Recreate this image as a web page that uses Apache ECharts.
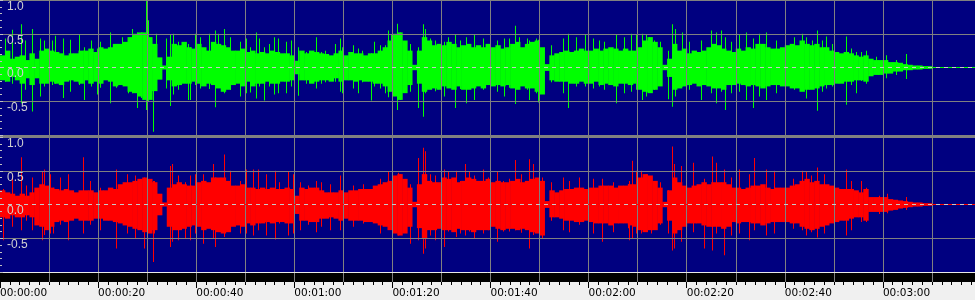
<!DOCTYPE html>
<html><head><meta charset="utf-8">
<script src="https://cdn.jsdelivr.net/npm/echarts@6/dist/echarts.min.js"></script>
<style>html,body{margin:0;padding:0;background:#808080;}#c{width:975px;height:300px;}</style>
</head><body><div id="c"></div>
<script>
// ---- data (amplitude per 1-second bucket, t = index in seconds) ----
const greenHi = [.18,.25,.13,.16,.18,.11,.21,.13,.25,.28, .25,.23,.21,.18,.21,.21,.25,.25,.28,.23,
 .30,.28,.30,.35,.35,.38,.45,.50,.52,.52, .45,.35,.15,.03,.16,.35,.33,.38,.30,.28,
 .35,.30,.25,.38,.35,.33,.30,.25,.25,.28, .23,.25,.21,.23,.21,.25,.23,.21,.21,.18,
 .10,.25,.21,.25,.23,.21,.20,.18,.21,.25, .18,.23,.21,.21,.18,.21,.21,.25,.30,.40,
 .50,.52,.40,.25,.04,.25,.45,.40,.33,.35, .33,.38,.35,.30,.33,.35,.30,.33,.30,.35,
 .30,.33,.28,.30,.35,.38,.30,.35,.38,.40, .30,.05,.18,.21,.23,.25,.23,.25,.28,.25,
 .25,.28,.25,.28,.30,.28,.25,.28,.25,.25, .30,.40,.45,.38,.30,.04,.13,.35,.25,.28,
 .21,.25,.23,.25,.30,.35,.33,.28,.25,.23, .28,.25,.30,.28,.35,.35,.30,.28,.28,.30,
 .33,.35,.33,.40,.35,.33,.35,.30,.30,.25, .23,.21,.23,.21,.18,.16,.18,.13,.11,.11,
 .11,.08,.08,.07,.05,.04,.03,.03,.02,.02];
const greenLo = [-.19,-.21,-.14,-.19,-.24,-.16,-.26,-.16,-.24,-.24, -.21,-.24,-.26,-.21,-.19,-.21,-.24,-.19,-.24,-.21,
 -.24,-.19,-.21,-.28,-.26,-.28,-.36,-.38,-.43,-.48, -.48,-.35,-.18,-.03,-.19,-.28,-.26,-.24,-.24,-.21,
 -.24,-.28,-.24,-.26,-.31,-.36,-.33,-.26,-.24,-.28, -.21,-.28,-.24,-.24,-.21,-.24,-.24,-.21,-.21,-.19,
 -.10,-.19,-.19,-.24,-.21,-.19,-.19,-.21,-.16,-.21, -.19,-.19,-.21,-.19,-.21,-.21,-.24,-.24,-.28,-.36,
 -.43,-.48,-.38,-.26,-.04,-.24,-.36,-.33,-.31,-.33, -.28,-.31,-.33,-.28,-.33,-.33,-.31,-.28,-.31,-.26,
 -.28,-.26,-.28,-.26,-.31,-.33,-.28,-.31,-.31,-.36, -.40,-.05,-.19,-.21,-.21,-.21,-.24,-.24,-.21,-.24,
 -.24,-.21,-.26,-.24,-.26,-.28,-.24,-.24,-.26,-.24, -.33,-.36,-.38,-.33,-.28,-.04,-.14,-.33,-.31,-.28,
 -.26,-.24,-.28,-.26,-.28,-.31,-.31,-.33,-.26,-.26, -.24,-.26,-.28,-.26,-.28,-.31,-.28,-.26,-.26,-.28,
 -.28,-.31,-.31,-.36,-.33,-.33,-.31,-.28,-.26,-.26, -.24,-.24,-.21,-.21,-.19,-.19,-.21,-.13,-.11,-.11,
 -.09,-.09,-.06,-.06,-.04,-.04,-.03,-.03,-.02,-.02];
const redHi = [.21,.18,.16,.13,.16,.13,.18,.25,.30,.28, .25,.23,.21,.23,.21,.18,.21,.21,.21,.18,
 .21,.21,.25,.23,.30,.33,.33,.35,.38,.40, .38,.33,.16,.03,.25,.30,.33,.30,.28,.28,
 .33,.35,.33,.40,.40,.40,.35,.28,.28,.30, .25,.25,.23,.25,.23,.25,.23,.23,.25,.23,
 .13,.25,.23,.25,.25,.21,.18,.18,.18,.21, .18,.21,.21,.23,.23,.23,.28,.30,.33,.35,
 .43,.45,.38,.25,.04,.30,.45,.35,.33,.33, .40,.38,.40,.33,.35,.40,.38,.35,.35,.38,
 .33,.35,.33,.33,.35,.38,.33,.35,.38,.40, .35,.05,.21,.18,.21,.23,.23,.25,.25,.23,
 .25,.25,.28,.28,.28,.25,.28,.28,.30,.30, .40,.45,.43,.35,.25,.04,.21,.40,.33,.28,
 .25,.28,.30,.33,.30,.33,.33,.33,.30,.25, .25,.23,.25,.28,.28,.30,.25,.23,.25,.25,
 .25,.28,.30,.35,.38,.33,.35,.30,.30,.28, .25,.23,.23,.23,.21,.18,.23,.11,.11,.11,
 .11,.08,.07,.06,.05,.04,.03,.03,.02,.02];
const redLo = [-.19,-.21,-.16,-.19,-.19,-.16,-.19,-.31,-.33,-.38, -.33,-.26,-.24,-.26,-.24,-.21,-.24,-.24,-.24,-.21,
 -.21,-.24,-.24,-.26,-.28,-.31,-.33,-.36,-.38,-.41, -.43,-.38,-.16,-.03,-.33,-.38,-.38,-.36,-.33,-.31,
 -.33,-.38,-.36,-.38,-.41,-.43,-.41,-.33,-.31,-.33, -.28,-.31,-.28,-.28,-.26,-.28,-.26,-.26,-.28,-.28,
 -.14,-.24,-.24,-.26,-.26,-.21,-.21,-.19,-.21,-.24, -.21,-.24,-.24,-.24,-.26,-.26,-.28,-.31,-.33,-.38,
 -.43,-.46,-.43,-.33,-.04,-.35,-.50,-.38,-.38,-.36, -.38,-.38,-.41,-.36,-.38,-.38,-.41,-.38,-.38,-.38,
 -.33,-.36,-.38,-.36,-.36,-.38,-.36,-.38,-.41,-.43, -.46,-.05,-.19,-.19,-.21,-.24,-.24,-.26,-.26,-.24,
 -.26,-.28,-.28,-.28,-.31,-.28,-.28,-.28,-.31,-.33, -.38,-.41,-.38,-.38,-.28,-.04,-.24,-.43,-.38,-.33,
 -.28,-.28,-.28,-.31,-.33,-.33,-.33,-.36,-.33,-.26, -.28,-.26,-.26,-.28,-.28,-.31,-.28,-.26,-.26,-.26,
 -.26,-.28,-.28,-.33,-.36,-.38,-.36,-.33,-.31,-.28, -.26,-.24,-.24,-.21,-.19,-.19,-.24,-.11,-.11,-.11,
 -.11,-.09,-.08,-.06,-.05,-.04,-.03,-.03,-.02,-.02];
// isolated peaks: [time s, max, min]
const greenSpikes = [[1.1,.43,-.21],[2.5,.56,-.24],[4.3,.64,-.53],[5.2,.40,-.33],[6.7,.57,-.65],[8.2,.43,-.43],[9.1,.40,-.28],[10.7,.40,-.26],[11.3,.47,-.24],[13.0,.43,-.45],[14.3,.41,-.36],[16.2,.48,-.26],[17.3,.30,-.48],[18.7,.40,-.28],[19.8,.28,-.40],[20.4,.38,-.30],[22.5,.52,-.53],[23.8,.33,-.30],[24.9,.45,-.24],[26.2,.40,-.38],[27.1,.57,-.38],[28.1,.52,-.60],[28.9,.52,-.45],[29.8,1.0,-.63],[30.3,.70,-.50],[31.3,.35,-.95],[32.0,.50,-.30],
 [34.0,.43,-.31],[34.7,.48,-.57],[35.4,.50,-.40],[36.4,.38,-.33],[38.4,.35,-.48],[38.9,.30,-.48],[39.8,.50,-.26],[40.8,.45,-.31],[42.7,.50,-.32],[43.9,.55,-.59],[44.5,.50,-.30],[45.8,.57,-.38],[47.0,.45,-.33],[49.0,.38,-.43],[50.3,.43,-.38],[51.1,.30,-.37],[52.2,.52,-.46],[53.0,.43,-.28],[53.9,.30,-.49],[55.0,.35,-.28],[56.0,.45,-.40],[56.8,.43,-.38],[58.5,.38,-.38],[59.5,.40,-.28],[60.8,.30,-.42],[62.5,.23,-.24],[64.5,.45,-.31],
 [65.6,.23,-.24],[66.3,.25,-.22],[68.3,.35,-.21],[69.5,.43,-.36],[69.9,.30,-.38],[72.0,.33,-.31],[73.1,.28,-.38],[74.0,.25,-.22],[75.7,.21,-.49],[76.4,.38,-.28],[77.5,.33,-.31],[78.5,.33,-.38],[79.2,.55,-.44],[79.9,.48,-.33],[81.0,.65,-.63],[81.6,.52,-.48],[83.6,.35,-.36],[85.4,.30,-.60],[86.3,.64,-.73],[86.8,.57,-.38],[87.7,.43,-.30],[88.7,.40,-.35],[90.7,.38,-.43],[91.4,.45,-.30],[92.8,.48,-.60],[93.8,.40,-.32],[95.1,.45,-.53],[96.8,.48,-.48],
 [98.5,.43,-.33],[99.9,.50,-.31],[101.4,.40,-.36],[102.9,.43,-.43],[103.9,.43,-.30],[105.1,.62,-.54],[106.0,.45,-.28],[107.6,.43,-.33],[108.0,.40,-.48],[109.4,.43,-.38],[109.8,.41,-.52],[112.4,.33,-.22],[114.8,.43,-.38],[116.0,.50,-.60],[117.5,.45,-.28],[119.4,.48,-.28],[120.9,.43,-.31],[122.3,.40,-.28],[123.3,.38,-.33],[125.7,.48,-.53],[127.4,.45,-.38],[128.7,.50,-.36],[129.7,.48,-.33],
 [131.0,.50,-.48],[131.8,.48,-.43],[132.5,.45,-.36],[133.5,.40,-.33],[134.6,.38,-.24],[136.2,.25,-.47],[137.2,.64,-.58],[137.7,.57,-.43],[139.1,.52,-.28],[140.6,.38,-.33],[143.0,.40,-.48],[145.0,.55,-.38],[146.0,.52,-.53],[147.1,.55,-.36],[147.9,.45,-.63],[149.1,.38,-.38],[150.7,.48,-.36],[152.1,.52,-.48],[153.7,.43,-.60],[154.9,.50,-.43],[156.2,.52,-.48],[158.3,.40,-.38],[160.2,.62,-.58],[162.0,.45,-.33],
 [163.7,.50,-.33],[164.4,.45,-.46],[165.7,.40,-.31],[166.7,.55,-.64],[167.6,.40,-.36],[168.4,.46,-.31],[169.8,.35,-.28],[172.5,.46,-.55],[173.5,.28,-.26],[174.6,.23,-.38],[175.6,.23,-.20],[176.6,.25,-.24],[178.6,.16,-.10],[180.8,.18,-.16],[182.7,.11,-.11],[184.9,.20,-.17]];
const redSpikes = [[0.8,.23,-.53],[2.5,.45,-.33],[4.3,.70,-.38],[5.5,.28,-.24],[6.7,.40,-.38],[8.6,.48,-.53],[9.1,.52,-.45],[10.3,.45,-.43],[10.9,.25,-.43],[12.3,.40,-.30],[14.0,.45,-.53],[17.0,.70,-.43],[18.4,.35,-.30],[20.4,.25,-.38],[23.8,.52,-.65],[25.9,.45,-.43],[27.6,.43,-.50],[29.4,.40,-.65],[30.1,.77,-.46],[31.3,.35,-.85],[31.6,.35,-.43],
 [34.7,.57,-.63],[35.2,.60,-.55],[36.4,.43,-.53],[37.8,.33,-.50],[38.8,.43,-.53],[39.8,.45,-.43],[41.5,.45,-.58],[43.5,.60,-.50],[43.9,.40,-.63],[45.8,.74,-.48],[46.9,.50,-.38],[49.0,.35,-.43],[50.2,.52,-.43],[51.7,.52,-.46],[52.7,.52,-.38],[54.3,.45,-.46],[56.1,.50,-.52],[57.0,.33,-.28],[58.8,.48,-.46],[59.8,.45,-.43],[61.2,.33,-.38],[62.9,.28,-.30],[64.6,.35,-.41],
 [65.6,.33,-.33],[67.3,.30,-.38],[69.5,.43,-.38],[72.0,.28,-.33],[74.1,.30,-.28],[77.5,.38,-.43],[79.2,.48,-.33],[81.2,.47,-.46],[81.6,.45,-.40],[83.6,.30,-.58],[85.4,.69,-.53],[86.3,.84,-.73],[86.8,.79,-.65],[87.7,.45,-.46],[88.7,.43,-.53],[90.7,.52,-.63],[91.4,.48,-.40],[93.0,.50,-.48],[93.8,.35,-.43],[94.9,.60,-.46],[95.7,.48,-.40],[96.8,.43,-.50],
 [98.5,.52,-.43],[99.5,.40,-.38],[101.4,.48,-.55],[102.7,.35,-.40],[103.9,.38,-.40],[105.1,.66,-.38],[106.3,.45,-.42],[107.9,.67,-.65],[108.8,.60,-.45],[109.9,.45,-.48],[110.5,.40,-.50],[112.4,.33,-.24],[114.8,.40,-.38],[116.2,.35,-.41],[118.2,.40,-.30],[120.9,.38,-.43],[122.9,.38,-.55],[125.0,.33,-.41],[128.1,.30,-.35],[128.4,.35,-.53],[128.9,.65,-.50],[129.7,.50,-.43],
 [130.8,.50,-.43],[131.8,.45,-.40],[132.8,.35,-.43],[134.6,.33,-.30],[136.2,.21,-.43],[137.2,.86,-.68],[137.6,.60,-.65],[138.9,.57,-.55],[141.4,.62,-.41],[143.7,.38,-.65],[145.2,.71,-.68],[146.0,.62,-.43],[147.7,.52,-.75],[149.1,.40,-.46],[150.8,.52,-.43],[152.8,.45,-.53],[153.9,.69,-.38],[156.2,.52,-.46],[157.9,.50,-.43],[160.1,.72,-.67],[161.7,.38,-.36],
 [163.6,.50,-.38],[164.4,.48,-.46],[165.4,.43,-.41],[166.7,.55,-.49],[168.1,.45,-.43],[170.1,.40,-.38],[172.5,.52,-.46],[173.5,.35,-.38],[175.6,.35,-.26],[176.6,.25,-.26],[179.3,.13,-.14],[181.0,.16,-.13],[184.8,.11,-.08]];
const ampTickLabels = ['-1.0','-0.5','0.0','0.5','1.0'];
const timeTickLabels = ['00:00:00','00:00:20','00:00:40','00:01:00','00:01:20','00:01:40','00:02:00','00:02:20','00:02:40','00:03:00','00:03:20'];
const timeMax = 200;

// ---- chart ----
const navy = '#000080', gray = '#808080';
const chart = echarts.init(document.getElementById('c'));
function bodyRender(color){
  return function(params, api){
    const t = api.value(0);
    const a = api.coord([t, api.value(1)]), b = api.coord([t + 1, api.value(2)]);
    return {type:'rect', shape:{x:a[0], y:a[1], width:b[0]-a[0]+0.5, height:b[1]-a[1]}, style:{fill:color}};
  };
}
function spikeRender(color){
  return function(params, api){
    const t = api.value(0);
    const a = api.coord([t, api.value(1)]), b = api.coord([t, api.value(2)]);
    return {type:'rect', shape:{x:Math.floor(a[0]), y:a[1], width:1, height:b[1]-a[1]}, style:{fill:color}};
  };
}
const gridX = (i) => ({gridIndex:i, type:'value', min:0, max:timeMax, interval:10, z:3,
  axisLine:{show:false, onZero:false}, axisTick:{show:false}, axisLabel:{show:false},
  splitLine:{show:true, showMinLine:false, showMaxLine:false, lineStyle:{color:gray, width:1}}});
const ampY = (i) => ({gridIndex:i, type:'value', min:-1, max:1, interval:0.5, z:3,
  axisLine:{show:false, onZero:false},
  axisTick:{show:true, inside:true, length:3, lineStyle:{color:'#c0c0c0'}},
  minorTick:{show:true, splitNumber:5, length:2, lineStyle:{color:'#c0c0c0'}},
  splitLine:{show:true, lineStyle:{color:gray, width:1}},
  axisLabel:{show:true, inside:true, margin:7, verticalAlign:'top', lineHeight:13, showMinLabel:false,
    color:'#d0d0d0', fontFamily:'Liberation Sans', fontSize:12,
    formatter:(v)=>ampTickLabels[Math.round((v+1)*2)]}});
function zeroSeries(i, color){
  return {type:'line', xAxisIndex:i, yAxisIndex:i, data:[[0,0]], showSymbol:false, z:5, silent:true,
    markLine:{silent:true, symbol:['none','none'], label:{show:false}, animation:false,
      data:[{yAxis:0, lineStyle:{color:color, type:'solid', width:1}},
            {yAxis:0, lineStyle:{color:'#c8c8c8', type:[4,4], width:1}}]}};
}
const gridBase = {left:0, right:-6, show:true, borderWidth:0, containLabel:false, outerBoundsMode:'none'};
const blackBarX = gridX(2);
blackBarX.position = 'top';
blackBarX.axisLine = {show:true, onZero:false, lineStyle:{color:'#e8e8e8', width:1}};
const option = {
  animation:false,
  backgroundColor: gray,
  grid:[
    Object.assign({}, gridBase, {top:0, height:135, backgroundColor:navy}),
    Object.assign({}, gridBase, {top:137, height:135, backgroundColor:navy}),
    Object.assign({}, gridBase, {top:272, height:10, backgroundColor:'#000000'}),
    Object.assign({}, gridBase, {top:282, height:18, backgroundColor:'#f0f0f0'})
  ],
  xAxis:[gridX(0), gridX(1), blackBarX,
    {gridIndex:3, type:'value', min:0, max:timeMax, interval:20, position:'top', z:5,
     axisLine:{show:true, onZero:false, lineStyle:{color:'rgba(0,0,0,0)'}},
     axisTick:{show:true, inside:true, length:6, lineStyle:{color:'#000000', width:1}},
     minorTick:{show:true, splitNumber:10, length:3, lineStyle:{color:'#000000', width:1}},
     splitLine:{show:false},
     axisLabel:{show:true, inside:true, margin:5, align:'left', verticalAlign:'top', lineHeight:12,
       color:'#000', fontFamily:'DejaVu Sans', fontSize:10.5, hideOverlap:false,
       formatter:(v)=>{const k=Math.round(v/20); return Math.abs(v-k*20)<1e-6 ? (timeTickLabels[k]||'') : '';}}}],
  yAxis:[ampY(0), ampY(1),
    {gridIndex:2, type:'value', min:0, max:1, show:false},
    {gridIndex:3, type:'value', min:0, max:1, show:false}],
  series:[
    {type:'custom', name:'L body', xAxisIndex:0, yAxisIndex:0, z:2, clip:true, encode:{x:0, y:[1,2]},
     renderItem: bodyRender('#00ff00'), data: greenHi.map((h,i)=>[i, h, greenLo[i]])},
    {type:'custom', name:'L peaks', xAxisIndex:0, yAxisIndex:0, z:2, clip:true, encode:{x:0, y:[1,2]},
     renderItem: spikeRender('#00ff00'), data: greenSpikes},
    zeroSeries(0, '#00ff00'),
    {type:'custom', name:'R body', xAxisIndex:1, yAxisIndex:1, z:2, clip:true, encode:{x:0, y:[1,2]},
     renderItem: bodyRender('#ff0000'), data: redHi.map((h,i)=>[i, h, redLo[i]])},
    {type:'custom', name:'R peaks', xAxisIndex:1, yAxisIndex:1, z:2, clip:true, encode:{x:0, y:[1,2]},
     renderItem: spikeRender('#ff0000'), data: redSpikes},
    zeroSeries(1, '#ff0000')
  ]
};
chart.setOption(option);
</script></body></html>
